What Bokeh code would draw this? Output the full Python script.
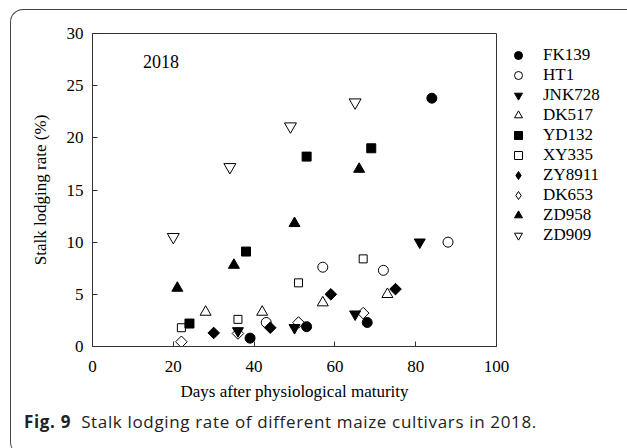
from bokeh.plotting import figure
from bokeh.models import (Legend, LegendItem, Label, ColumnDataSource, FixedTicker, Range1d, Div)
from bokeh.layouts import column
from bokeh.embed import file_html
from bokeh.resources import INLINE
import math

# ---- data ----
cultivars = ["FK139", "HT1", "JNK728", "DK517", "YD132", "XY335", "ZY8911", "DK653", "ZD958", "ZD909"]
fk139_x = [39, 53, 68, 84];   fk139_y = [0.8, 1.9, 2.3, 23.8]
ht1_x = [43, 57, 72, 88];     ht1_y = [2.3, 7.6, 7.3, 10.0]
jnk728_x = [36, 50, 65, 81];  jnk728_y = [1.5, 1.8, 3.1, 10.0]
dk517_x = [28, 42, 57, 73];   dk517_y = [3.3, 3.3, 4.2, 5.0]
yd132_x = [24, 38, 53, 69];   yd132_y = [2.2, 9.1, 18.2, 19.0]
xy335_x = [22, 36, 51, 67];   xy335_y = [1.8, 2.6, 6.1, 8.4]
zy8911_x = [30, 44, 59, 75];  zy8911_y = [1.3, 1.8, 5.0, 5.5]
dk653_x = [22, 36, 51, 67];   dk653_y = [0.45, 1.25, 2.3, 3.2]
zd958_x = [21, 35, 50, 66];   zd958_y = [5.6, 7.8, 11.8, 17.0]
zd909_x = [20, 34, 49, 65];   zd909_y = [10.5, 17.2, 21.1, 23.4]
x_ticks = [0, 20, 40, 60, 80, 100]
y_ticks = [0, 5, 10, 15, 20, 25, 30]

SERIF = "Liberation Serif"
FS = "17px"
INK = "#000000"
LINE = "#333333"

p = figure(frame_width=404, frame_height=313, x_range=Range1d(0, 100), y_range=Range1d(0, 30),
           output_backend="svg", toolbar_location=None,
           min_border_left=81, min_border_top=23, min_border_right=131, min_border_bottom=59)
p.background_fill_color = None
p.border_fill_color = None
p.xgrid.grid_line_color = None
p.ygrid.grid_line_color = None
p.outline_line_color = LINE
p.outline_line_width = 1
p.outline_line_alpha = 1.0

for ax, ticks in ((p.xaxis[0], x_ticks), (p.yaxis[0], y_ticks)):
    ax.ticker = FixedTicker(ticks=ticks)
    ax.major_tick_in = 5
    ax.major_tick_out = 0
    ax.minor_tick_line_color = None
    ax.axis_line_color = LINE
    ax.major_tick_line_color = LINE
    ax.major_label_text_font = SERIF
    ax.major_label_text_font_size = FS
    ax.major_label_text_color = INK
    ax.axis_label_text_font = SERIF
    ax.axis_label_text_font_size = FS
    ax.axis_label_text_font_style = "normal"
    ax.axis_label_text_color = INK

p.xaxis.axis_label = "Days after physiological maturity"
p.yaxis.axis_label = "Stalk lodging rate (%)"
p.xaxis.major_label_standoff = 14
p.xaxis.axis_label_standoff = 7
p.yaxis.major_label_standoff = 9
p.yaxis.axis_label_standoff = 14

items = []
def add(name, xs, ys, marker, filled, size, angle=0.0, legend_marker=None):
    src = ColumnDataSource(dict(x=xs, y=ys))
    kw = dict(fill_color=INK if filled else None, line_color=INK, line_width=1)
    r = p.scatter("x", "y", source=src, marker=marker, size=size, angle=angle, **kw)
    if legend_marker is None:
        items.append(LegendItem(label=name, renderers=[r]))
    else:
        proxy = p.scatter("x", "y", source=src, marker=legend_marker, size=size, visible=False, **kw)
        items.append(LegendItem(label=name, renderers=[proxy]))

add("FK139", fk139_x, fk139_y, "circle", True, 10)
add("HT1", ht1_x, ht1_y, "circle", False, 10)
add("JNK728", jnk728_x, jnk728_y, "inverted_triangle", True, 11)
add("DK517", dk517_x, dk517_y, "triangle", False, 11)
add("YD132", yd132_x, yd132_y, "square", True, 9)
add("XY335", xy335_x, xy335_y, "square", False, 8)
add("ZY8911", zy8911_x, zy8911_y, "square", True, 8.2, math.pi / 4, "diamond")
add("DK653", dk653_x, dk653_y, "square", False, 8.2, math.pi / 4, "diamond")
add("ZD958", zd958_x, zd958_y, "triangle", True, 11)
add("ZD909", zd909_x, zd909_y, "inverted_triangle", False, 12)

legend = Legend(items=items, location="top_left", margin=12, padding=10,
                glyph_width=20, glyph_height=20, label_height=20, spacing=0,
                label_standoff=15, border_line_color=None, background_fill_color=None,
                label_text_font=SERIF, label_text_font_size=FS, label_text_color=INK)
p.add_layout(legend, "right")

p.add_layout(Label(x=12.5, y=27.3, text="2018", text_font=SERIF, text_font_size="18px",
                   text_baseline="middle", text_color=INK))

caption = Div(text='<b>Fig. 9</b>&nbsp;&nbsp;Stalk lodging rate of different maize cultivars in 2018.',
              width=600, height=40,
              styles={"font-family": "'Open Sans'", "font-size": "17px", "color": "#222222",
                      "letter-spacing": "0.65px", "padding-left": "8px", "line-height": "24px"})

layout = column(p, caption, spacing=0, margin=(9, 0, 0, 10),
                styles={"border-top": "1px solid #444", "border-left": "1px solid #444",
                        "border-top-left-radius": "13px", "border-bottom-left-radius": "13px"})

open("out.html", "w").write(file_html(layout, INLINE))
